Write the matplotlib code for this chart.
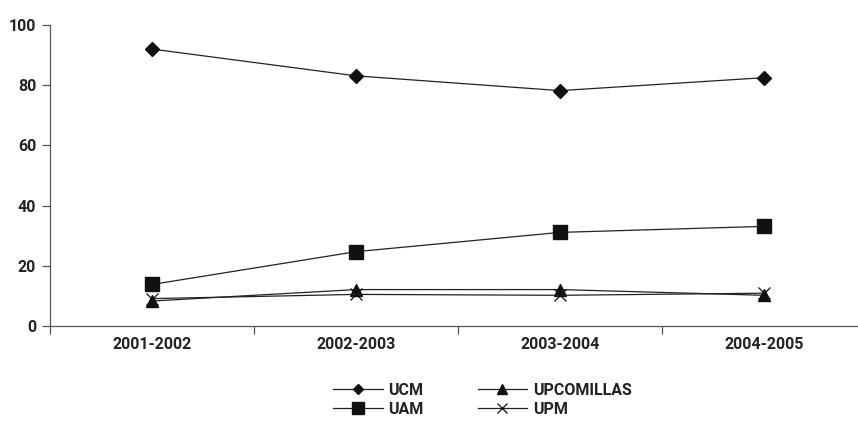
import numpy as np
import matplotlib
matplotlib.use("Agg")
import matplotlib.pyplot as plt

# data
years = ["2001-2002", "2002-2003", "2003-2004", "2004-2005"]
ucm = [92, 83.1, 78.2, 82.5]
uam = [13.8, 24.7, 31.1, 33.1]
upcomillas = [8.3, 12.1, 12.1, 10.2]
upm = [9.1, 10.5, 10.2, 10.9]

plt.rcParams['font.family'] = ['Roboto', 'DejaVu Sans']
plt.rcParams['font.weight'] = 'bold'

fig = plt.figure(figsize=(8.58, 4.23), dpi=100)
ax = fig.add_axes([50 / 858, 97 / 423, 1 - 50 / 858, 301 / 423])

x = np.arange(len(years))
lc = '#222222'
mc = '#111111'
ax.plot(x, ucm, color=lc, lw=0.9, marker='D', ms=7, mfc=mc, mec=mc, label='UCM')
ax.plot(x, uam, color=lc, lw=0.9, marker='s', ms=10, mfc=mc, mec=mc, label='UAM')
ax.plot(x, upcomillas, color=lc, lw=0.9, marker='^', ms=9, mfc=mc, mec=mc, label='UPCOMILLAS')
ax.plot(x, upm, color=lc, lw=0.9, marker='x', ms=9, mew=0.9, mec=mc, label='UPM')

ax.set_xlim(-0.5, 3.46)
ax.set_ylim(0, 100)
ax.set_yticks([0, 20, 40, 60, 80, 100])
ax.set_xticks(x)
ax.set_xticklabels(years)
ax.set_xticks(np.arange(-0.5, 3.5, 1), minor=True)
ax.tick_params(axis='x', which='major', length=0, pad=8, labelsize=11.5, labelcolor='#222222')
ax.tick_params(axis='x', which='minor', length=6, width=0.9, color='#555555')
ax.tick_params(axis='y', length=6, width=0.9, color='#555555', pad=4, labelsize=11.5,
               labelcolor='#222222')

ax.spines['top'].set_visible(False)
ax.spines['right'].set_visible(False)
for s in ['left', 'bottom']:
    ax.spines[s].set_color('#555555')
    ax.spines[s].set_linewidth(0.9)

ax.legend(ncol=2, loc='upper left', bbox_to_anchor=(333 / 858, (423 - 383) / 423),
          bbox_transform=fig.transFigure, frameon=False, borderpad=0, borderaxespad=0,
          fontsize=11.5, handlelength=3.1, handletextpad=0.35, columnspacing=3.4,
          labelspacing=0.25, markerscale=0.8, labelcolor='#222222')

fig.savefig("out.png", dpi=100)
